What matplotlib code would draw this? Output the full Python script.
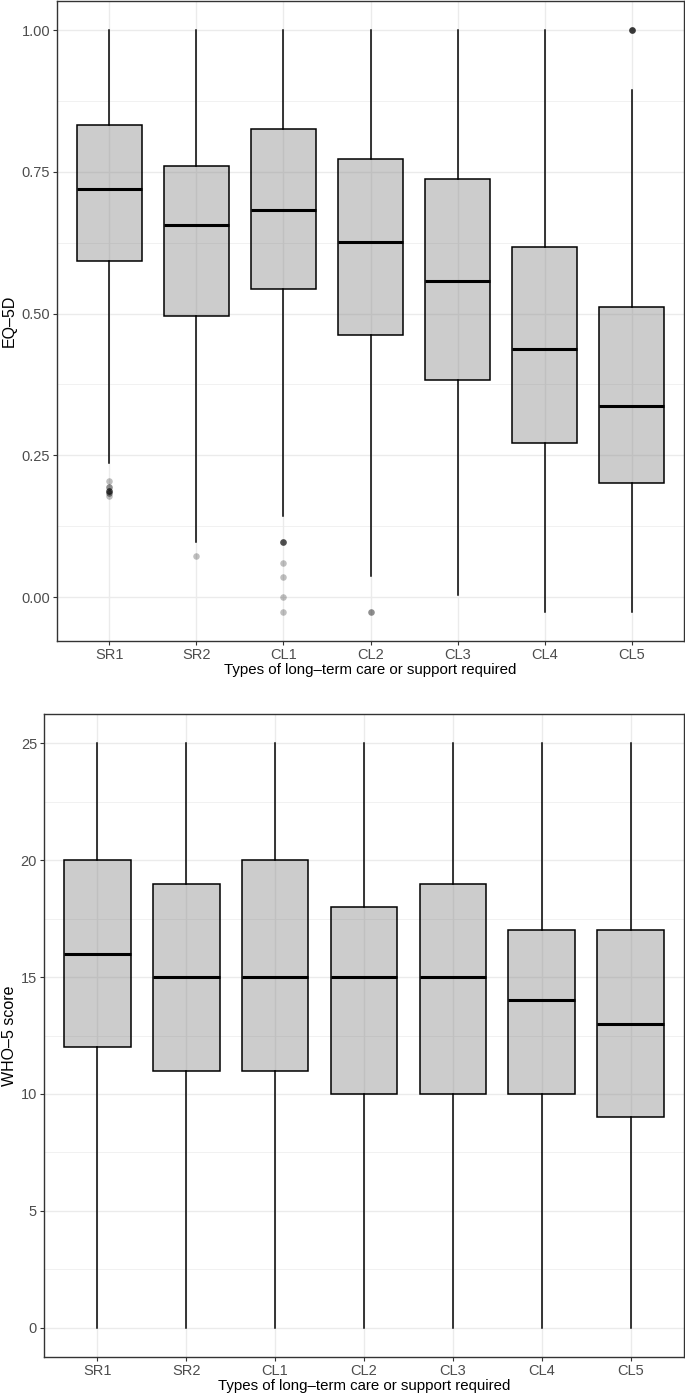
import matplotlib
matplotlib.use("Agg")
import matplotlib.pyplot as plt
from matplotlib.ticker import MultipleLocator

plt.rcParams['font.family'] = ['Liberation Sans', 'DejaVu Sans']

categories = ["SR1", "SR2", "CL1", "CL2", "CL3", "CL4", "CL5"]

# EQ-5D box statistics
eq_whislo = [0.236, 0.097, 0.143, 0.038, 0.003, -0.027, -0.027]
eq_q1     = [0.593, 0.496, 0.543, 0.463, 0.383, 0.271, 0.202]
eq_med    = [0.720, 0.656, 0.683, 0.627, 0.558, 0.437, 0.337]
eq_q3     = [0.832, 0.760, 0.825, 0.773, 0.737, 0.617, 0.511]
eq_whishi = [1.000, 1.000, 1.000, 1.000, 1.000, 1.000, 0.895]
eq_outliers = [
    [0.205, 0.195, 0.188, 0.183, 0.178],
    [0.072],
    [0.097, 0.060, 0.036, 0.000, -0.027],
    [-0.027],
    [],
    [],
    [1.000],
]
eq_outlier_counts = [
    [1, 2, 4, 2, 1],
    [1],
    [4, 1, 1, 1, 1],
    [2],
    [],
    [],
    [5],
]

# WHO-5 box statistics
who_whislo = [0, 0, 0, 0, 0, 0, 0]
who_q1     = [12, 11, 11, 10, 10, 10, 9]
who_med    = [16, 15, 15, 15, 15, 14, 13]
who_q3     = [20, 19, 20, 18, 19, 17, 17]
who_whishi = [25, 25, 25, 25, 25, 25, 25]

xlabel = "Types of long\u2013term care or support required"
ylabel_top = "EQ\u20135D"
ylabel_bottom = "WHO\u20135 score"

fig = plt.figure(figsize=(6.85, 13.95), dpi=100)
W, H = 685, 1395

def make_axes(l, t, r, b):
    return fig.add_axes([l / W, 1 - b / H, (r - l) / W, (b - t) / H])

ax1 = make_axes(57, 1, 684, 641)
ax2 = make_axes(44, 714, 684, 1357)

def draw(ax, whislo, q1, med, q3, whishi, ylabel, ylim, major, minor, fmt,
         outliers=None, counts=None):
    stats = []
    for i in range(len(categories)):
        stats.append(dict(whislo=whislo[i], q1=q1[i], med=med[i], q3=q3[i],
                          whishi=whishi[i], fliers=[], label=categories[i]))
    pos = list(range(1, len(categories) + 1))
    ax.bxp(stats, positions=pos, widths=0.75, patch_artist=True,
           showcaps=False, showfliers=False,
           boxprops=dict(facecolor=(0.5, 0.5, 0.5, 0.4), edgecolor='black', linewidth=1.1),
           whiskerprops=dict(color='black', linewidth=1.1),
           medianprops=dict(color='black', linewidth=2.2, solid_capstyle='butt'),
           zorder=3)
    if outliers is not None:
        for i, (vals, cnts) in enumerate(zip(outliers, counts)):
            for v, c in zip(vals, cnts):
                for _ in range(c):
                    ax.scatter([pos[i]], [v], s=22, color='black', alpha=0.25,
                               linewidths=0, zorder=4)
    ax.set_xlim(0.4, len(categories) + 0.6)
    ax.set_ylim(*ylim)
    ax.yaxis.set_major_locator(MultipleLocator(major))
    ax.yaxis.set_minor_locator(MultipleLocator(minor))
    ax.yaxis.set_major_formatter(fmt)
    ax.set_xticks(pos)
    ax.set_xticklabels(categories)
    ax.grid(True, which='major', color='#EBEBEB', linewidth=1.0, zorder=0)
    ax.grid(True, which='minor', axis='y', color='#EBEBEB', linewidth=0.5, zorder=0)
    ax.set_axisbelow(True)
    for s in ax.spines.values():
        s.set_color('#333333')
        s.set_linewidth(1.0)
    ax.tick_params(axis='both', which='major', length=3, width=0.8, color='#333333',
                   labelcolor='#4D4D4D', labelsize=10.5, pad=2)
    ax.tick_params(axis='y', which='minor', length=0)
    ax.set_xlabel(xlabel, fontsize=10.8, color='black', labelpad=1)
    ax.set_ylabel(ylabel, fontsize=11.5, color='black', labelpad=3)

draw(ax1, eq_whislo, eq_q1, eq_med, eq_q3, eq_whishi, ylabel_top,
     (-0.0774, 1.0513), 0.25, 0.125, lambda v, p: f"{v:.2f}",
     eq_outliers, eq_outlier_counts)
draw(ax2, who_whislo, who_q1, who_med, who_q3, who_whishi, ylabel_bottom,
     (-1.25, 26.25), 5, 2.5, lambda v, p: f"{v:.0f}")

fig.savefig("out.png", dpi=100)
